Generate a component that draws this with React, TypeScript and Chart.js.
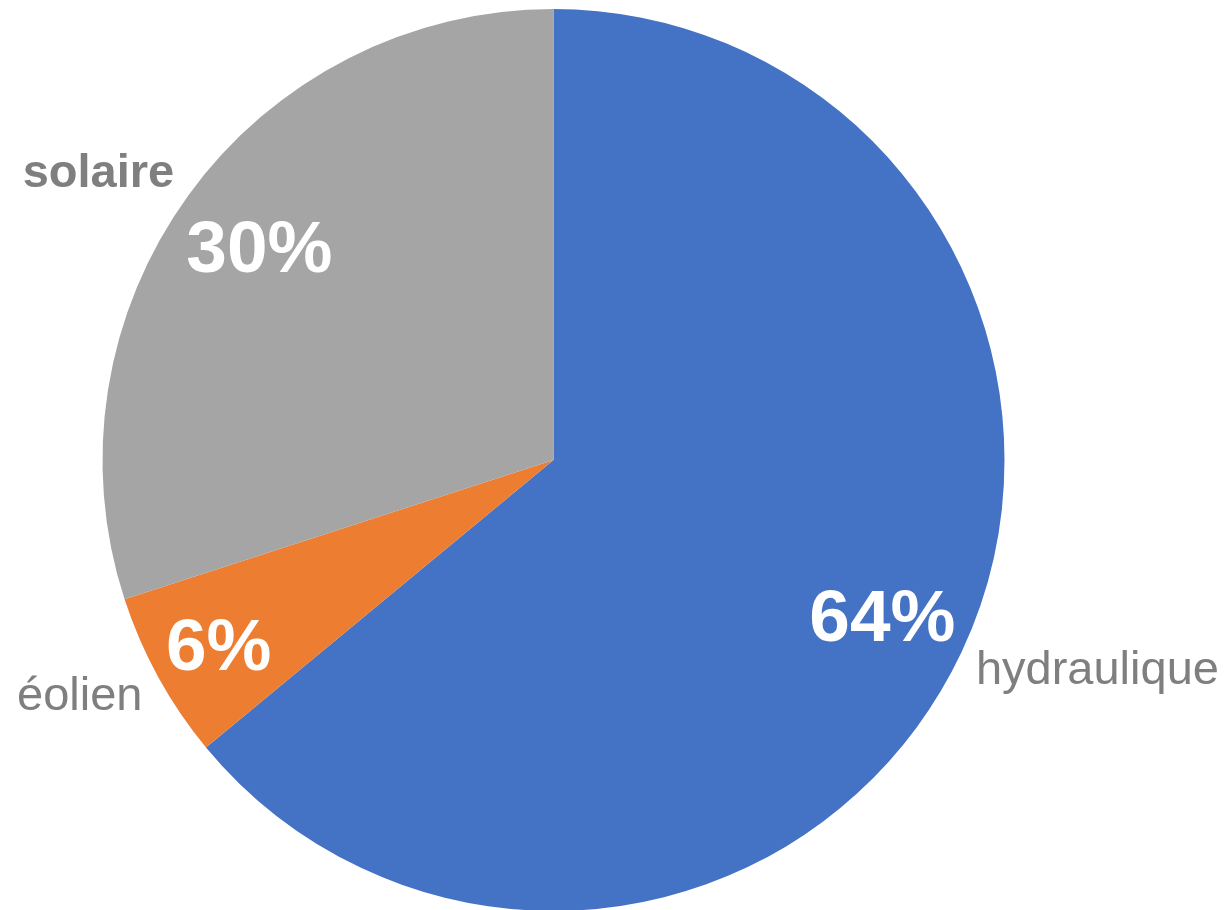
import React, { useEffect, useRef } from "react";
import { Chart, registerables } from "chart.js";

Chart.register(...registerables);

const categories = ["hydraulique", "éolien", "solaire"];
const shares = [64, 6, 30];
const sliceColors = ["#4472C4", "#ED7D31", "#A5A5A5"];
const categoryBold = [false, false, true];
// label placement (style): value label radius ratio, category label offset from value label
const valueRadiusRatio = [0.806, 0.847, 0.806];
const categoryOffsetX = [215, -139, -161];
const categoryOffsetY = [69, 66, -59];

const FONT = '"Liberation Sans", Arial, sans-serif';

const labelPlugin = {
  id: "pieLabels",
  afterDatasetsDraw(chart: any) {
    const ctx = chart.ctx as CanvasRenderingContext2D;
    const meta = chart.getDatasetMeta(0);
    const data = chart.data.datasets[0].data as number[];
    const total = data.reduce((a, b) => a + b, 0);
    meta.data.forEach((arc: any, i: number) => {
      const { x, y, startAngle, endAngle, outerRadius } = arc.getProps(
        ["x", "y", "startAngle", "endAngle", "outerRadius"],
        true
      );
      const mid = (startAngle + endAngle) / 2;
      const r = outerRadius * valueRadiusRatio[i];
      const px = x + Math.cos(mid) * r;
      const py = y + Math.sin(mid) * r;
      ctx.save();
      ctx.textAlign = "center";
      ctx.textBaseline = "alphabetic";
      ctx.fillStyle = "#FFFFFF";
      ctx.font = `bold 73px ${FONT}`;
      const pct = Math.round((data[i] / total) * 100) + "%";
      ctx.fillText(pct, px, py + 26);
      ctx.fillStyle = "#7F7F7F";
      ctx.font = `${categoryBold[i] ? "bold " : ""}47px ${FONT}`;
      ctx.fillText(
        chart.data.labels[i],
        px + categoryOffsetX[i],
        py + categoryOffsetY[i]
      );
      ctx.restore();
    });
  },
};

export default function App() {
  const canvasRef = useRef<HTMLCanvasElement>(null);

  useEffect(() => {
    if (!canvasRef.current) return;
    const chart = new Chart(canvasRef.current, {
      type: "pie",
      data: {
        labels: categories,
        datasets: [
          {
            data: shares,
            backgroundColor: sliceColors,
            borderWidth: 0,
            hoverOffset: 0,
          },
        ],
      },
      options: {
        animation: false,
        responsive: true,
        maintainAspectRatio: false,
        layout: { padding: { left: 102, right: 224, top: 9, bottom: 9 } },
        plugins: {
          legend: { display: false },
          tooltip: { enabled: false },
        },
      },
      plugins: [labelPlugin],
    });
    return () => chart.destroy();
  }, []);

  return (
    <div
      style={{
        position: "absolute",
        left: 0,
        top: 0,
        width: 1229,
        height: 920,
        background: "#FFFFFF",
      }}
    >
      <canvas ref={canvasRef} />
    </div>
  );
}
